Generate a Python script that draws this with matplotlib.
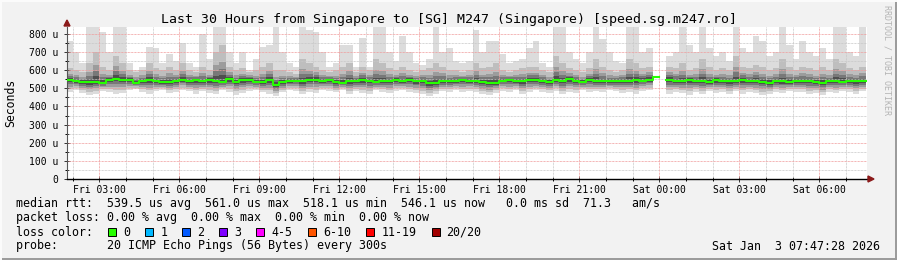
import numpy as np
import matplotlib.pyplot as plt
from matplotlib.patches import Rectangle, Polygon

W, H = 897, 260
nan = np.nan

# 15 minute steps starting Fri 01:45 (hours counted from Fri 00:00)
start_hour = 1.75
step_hours = 0.25
x_first, x_last = 1.7911, 31.7911   # Fri 01:47:28 .. Sat 07:47:28

# median rtt (us)
median_rtt = [545, 540, 535, 533, 537, 532, 545, 553, 547, 545,
              530, 538, 545, 540, 533, 536, 542, 548, 540, 546,
              538, 545, 540, 535, 550, 537, 545, 548, 535, 533,
              545, 520, 535, 540, 543, 538, 545, 548, 540, 545,
              535, 530, 538, 540, 545, 540, 535, 538, 540, 545,
              540, 545, 538, 540, 528, 530, 540, 538, 540, 545,
              542, 540, 535, 528, 530, 543, 545, 540, 538, 545,
              545, 540, 535, 545, 540, 550, 543, 535, 545, 540,
              540, 538, 540, 542, 540, 545, 543, 548, 560, nan,
              548, 542, 540, 545, 538, 540, 535, 545, 540, 538,
              540, 545, 538, 540, 535, 532, 540, 538, 535, 540,
              538, 540, 535, 528, 538, 540, 537, 538, 538, 540]

# slowest ping of each step (us)
ping_max = [760, 700, 640, 840, 840, 810, 700, 840, 840, 640,
            600, 620, 730, 720, 640, 690, 650, 750, 640, 620,
            800, 660, 840, 840, 700, 640, 700, 600, 660, 730,
            740, 840, 700, 640, 620, 840, 820, 810, 700, 620,
            640, 740, 740, 620, 780, 620, 840, 840, 700, 650,
            790, 700, 640, 630, 660, 840, 700, 720, 650, 640,
            650, 820, 700, 760, 760, 690, 640, 650, 660, 720,
            760, 640, 620, 840, 840, 700, 660, 640, 700, 840,
            770, 700, 650, 640, 840, 840, 700, 720, 840, nan,
            680, 700, 840, 740, 700, 840, 720, 680, 700, 650,
            840, 720, 700, 790, 760, 680, 700, 840, 740, 660,
            760, 700, 680, 720, 660, 840, 840, 700, 680, 840]

# upper edge of the dense part of the smoke (us)
ping_upper = [610, 600, 590, 640, 700, 620, 600, 680, 640, 600,
              590, 600, 640, 610, 600, 620, 600, 640, 600, 590,
              620, 600, 700, 740, 620, 600, 610, 590, 600, 620,
              640, 600, 600, 590, 580, 660, 640, 620, 600, 590,
              600, 620, 640, 590, 620, 600, 660, 640, 610, 600,
              620, 600, 590, 600, 610, 640, 620, 600, 600, 590,
              600, 640, 610, 620, 640, 600, 590, 600, 610, 620,
              620, 600, 590, 680, 640, 610, 600, 590, 610, 660,
              620, 600, 590, 600, 660, 640, 610, 620, 640, nan,
              620, 610, 640, 600, 610, 660, 620, 600, 610, 600,
              680, 620, 610, 630, 620, 600, 610, 660, 620, 600,
              620, 610, 600, 620, 600, 660, 640, 610, 600, 620]

# fastest ping of each step (us)
ping_min = [480, 490, 475, 465, 470, 485, 480, 470, 475, 490,
            495, 480, 470, 485, 490, 475, 480, 490, 485, 470,
            485, 475, 470, 490, 480, 465, 475, 485, 490, 480,
            470, 460, 480, 490, 485, 470, 480, 475, 490, 485,
            480, 490, 470, 485, 475, 470, 490, 480, 475, 485,
            490, 480, 475, 470, 460, 470, 485, 480, 490, 480,
            485, 480, 470, 465, 475, 485, 480, 490, 470, 480,
            490, 480, 475, 485, 470, 480, 475, 490, 480, 485,
            480, 490, 485, 475, 480, 470, 485, 490, 495, nan,
            470, 480, 475, 465, 480, 470, 485, 475, 480, 470,
            485, 470, 480, 475, 465, 470, 480, 475, 485, 480,
            480, 470, 475, 465, 480, 475, 485, 480, 470, 485]

xtick_hours = [3, 6, 9, 12, 15, 18, 21, 24, 27, 30]
xtick_labels = ['Fri 03:00', 'Fri 06:00', 'Fri 09:00', 'Fri 12:00', 'Fri 15:00',
                'Fri 18:00', 'Fri 21:00', 'Sat 00:00', 'Sat 03:00', 'Sat 06:00']
ytick_values = [0, 100, 200, 300, 400, 500, 600, 700, 800]
ytick_labels = ['0', '100 u', '200 u', '300 u', '400 u', '500 u', '600 u', '700 u', '800 u']

loss_labels = ['0', '1', '2', '3', '4-5', '6-10', '11-19', '20/20']
loss_colors = ['#26ff00', '#00b8ff', '#0059ff', '#7e00ff', '#ff00ff',
               '#ff5500', '#ff0000', '#a10000']

mono = 'DejaVu Sans Mono'
plt.rcParams['font.family'] = mono


def fx(px):
    return px / W


def fy(py):
    return 1 - py / H


fig = plt.figure(figsize=(W / 100, H / 100), dpi=100, facecolor='#f2f2f2')
ax = fig.add_axes([fx(67), fy(179), 800 / W, 152 / H])
ax.set_facecolor('white')

x = start_hour + step_hours * np.arange(len(median_rtt) + 1)


def ext(a):
    a = np.asarray(a, dtype=float)
    return np.append(a, a[-1])


med = ext(median_rtt)
mx = ext(ping_max)
up = ext(ping_upper)
mn = ext(ping_min)

# smoke
ax.fill_between(x, mn, mx, step='post', color='#dcdcdc', lw=0, zorder=1)
ax.fill_between(x, med - (med - mn) * 0.75, up, step='post', color='#bebebe', lw=0, zorder=1.1)
for frac, col in [(0.55, '#9c9c9c'), (0.35, '#787878'), (0.18, '#4e4e4e')]:
    ax.fill_between(x, med - (med - mn) * frac, med + (up - med) * frac,
                    step='post', color=col, lw=0, zorder=1.2)

# grid drawn over the smoke
dots = (0, (0.72, 0.72))
for h in range(2, 32):
    if h % 3:
        ax.axvline(h, color='#c8c8c8', lw=0.72, ls=dots, zorder=2)
for v in range(50, 850, 100):
    ax.axhline(v, color='#c8c8c8', lw=0.72, ls=dots, zorder=2)
for h in xtick_hours:
    ax.axvline(h, color='#f09c9c', lw=0.72, ls=dots, zorder=2.1)
for v in ytick_values[1:]:
    ax.axhline(v, color='#f09c9c', lw=0.72, ls=dots, zorder=2.1)

ax.plot(x, med, drawstyle='steps-post', color='#26ff00', lw=1.5, zorder=3)

ax.set_xlim(x_first, x_last)
ax.set_ylim(0, 838.6)
ax.set_xticks(xtick_hours)
ax.set_xticklabels(xtick_labels)
ax.set_xticks(range(2, 32), minor=True)
ax.set_yticks(ytick_values)
ax.set_yticklabels(ytick_labels)
ax.set_yticks(range(50, 850, 100), minor=True)
ax.tick_params(labelsize=7, colors='#333333', labelcolor='black')
ax.tick_params(axis='x', which='major', direction='inout', length=5, width=0.7, pad=1.5)
ax.tick_params(axis='x', which='minor', direction='inout', length=3, width=0.7)
ax.tick_params(axis='y', which='major', direction='inout', length=5, width=0.7, pad=4)
ax.tick_params(axis='y', which='minor', direction='inout', length=3, width=0.7)

for s in ['top', 'right']:
    ax.spines[s].set_visible(False)
ax.spines['left'].set_color('#555555')
ax.spines['bottom'].set_color('black')
ax.spines['left'].set_linewidth(0.8)
ax.spines['bottom'].set_linewidth(1.0)

# axis arrows
arrow = '#8b1a1a'
fig.add_artist(Polygon([[fx(64), fy(26)], [fx(70), fy(26)], [fx(67), fy(20)]],
                       closed=True, color=arrow, transform=fig.transFigure))
fig.add_artist(Polygon([[fx(868), fy(176)], [fx(868), fy(182)], [fx(874), fy(179)]],
                       closed=True, color=arrow, transform=fig.transFigure))

fig.text(0.5, fy(19), 'Last 30 Hours from Singapore to [SG] M247 (Singapore) [speed.sg.m247.ro]',
         ha='center', va='center', fontsize=9.5)
fig.text(fx(11), fy(103), 'Seconds', rotation=90, ha='center', va='center', fontsize=8.3)
fig.text(fx(887), fy(60), 'RRDTOOL / TOBI OETIKER', rotation=270, ha='center', va='center',
         fontsize=6, color='#b4b4b4')

fs = 8.35
fig.text(fx(16), fy(204), 'median rtt:  539.5 us avg  561.0 us max  518.1 us min  '
         '546.1 us now   0.0 ms sd  71.3   am/s', ha='left', va='center', fontsize=fs)
fig.text(fx(16), fy(218), 'packet loss: 0.00 % avg  0.00 % max  0.00 % min  0.00 % now',
         ha='left', va='center', fontsize=fs)
fig.text(fx(16), fy(232), 'loss color:', ha='left', va='center', fontsize=fs)
box_x = [108, 145.4, 182.4, 219.4, 256.4, 307.8, 366.2, 431.6]
for bx, lab, col in zip(box_x, loss_labels, loss_colors):
    fig.add_artist(Rectangle((fx(bx), fy(236)), 8 / W, 8 / H, facecolor=col,
                             edgecolor='black', lw=0.7, transform=fig.transFigure))
    fig.text(fx(bx + 15), fy(232), lab, ha='left', va='center', fontsize=fs)
fig.text(fx(16), fy(246), 'probe:       20 ICMP Echo Pings (56 Bytes) every 300s',
         ha='left', va='center', fontsize=fs)
fig.text(fx(880), fy(246), 'Sat Jan  3 07:47:28 2026', ha='right', va='center', fontsize=fs)

# image frame
fig.add_artist(plt.Line2D([0, 1], [fy(258.5)] * 2, color='#9a9a9a', lw=1.4,
                          transform=fig.transFigure))
fig.add_artist(plt.Line2D([fx(895.5)] * 2, [0, 1], color='#9a9a9a', lw=1.4,
                          transform=fig.transFigure))
fig.add_artist(plt.Line2D([0, 1], [fy(0.5)] * 2, color='#fcfcfc', lw=1.4,
                          transform=fig.transFigure))
fig.add_artist(plt.Line2D([fx(0.5)] * 2, [0, 1], color='#fcfcfc', lw=1.4,
                          transform=fig.transFigure))

fig.savefig('out.png', dpi=100, facecolor=fig.get_facecolor())
